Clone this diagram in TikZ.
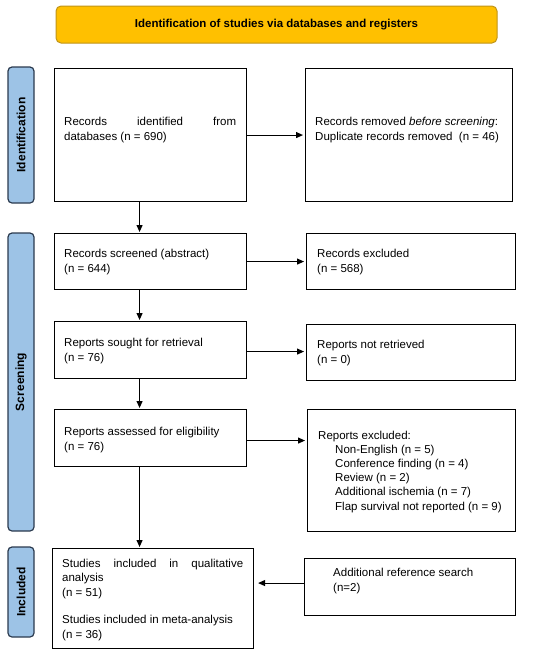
\documentclass[tikz,border=0pt]{standalone}
\usepackage{fontspec}
\setmainfont{Liberation Sans}
\usetikzlibrary{arrows.meta}
\definecolor{bannerfill}{HTML}{FFC000}
\definecolor{bannerdraw}{HTML}{C09418}
\definecolor{sidefill}{HTML}{9DC3E6}
\definecolor{sidedraw}{HTML}{2B3A4E}
\begin{document}
\begin{tikzpicture}[x=1pt,y=-1pt,
  box/.style={draw, line width=1.1pt, anchor=north west, inner sep=0pt},
  txt/.style={anchor=base west, align=left, inner sep=0pt, font=\fontsize{11.5}{14.2}\selectfont},
  side/.style={draw=sidedraw, fill=sidefill, line width=1.2pt, rounded corners=4pt, inner sep=0pt, rotate=90, font=\bfseries\fontsize{12}{14}\selectfont},
  arr/.style={-{Triangle[length=7pt,width=6pt]}, line width=1.1pt}]
\useasboundingbox (0,0) rectangle (550,654);

% banner
\node[fill=bannerfill, draw=bannerdraw, line width=1pt, rounded corners=5pt,
      minimum width=441pt, minimum height=37pt, inner sep=0pt,
      font=\bfseries\fontsize{11.5}{14}\selectfont] (banner) at (276.5,24.5)
      {Identification of studies via databases and registers};

% side labels
\node[side, minimum width=136pt, minimum height=26pt] (sid) at (21,135) {Identification};
\node[side, minimum width=298pt, minimum height=26pt] (sscr) at (21,382) {Screening};
\node[side, minimum width=90pt, minimum height=26pt] (sinc) at (21,592) {Included};

% boxes
\node[box, minimum width=192pt, minimum height=133pt] (b1) at (54,68) {};
\node[box, minimum width=207pt, minimum height=133pt] (b2) at (305,68) {};
\node[box, minimum width=192pt, minimum height=56pt] (b3) at (54,233) {};
\node[box, minimum width=209pt, minimum height=56pt] (b4) at (306,233) {};
\node[box, minimum width=192pt, minimum height=57pt] (b5) at (54,321) {};
\node[box, minimum width=209pt, minimum height=56pt] (b6) at (306,324) {};
\node[box, minimum width=192pt, minimum height=57pt] (b7) at (54,409) {};
\node[box, minimum width=208pt, minimum height=122pt] (b8) at (307,409) {};
\node[box, minimum width=201pt, minimum height=100pt] (b9) at (52,548) {};
\node[box, minimum width=211pt, minimum height=57pt] (b10) at (304,558) {};

% texts (base = baseline of last line)
\node[txt] (t1) at (64,140) {\makebox[172pt][s]{Records identified from}\\databases (n = 690)};
\node[txt] (t2) at (315,140) {Records removed \textit{before screening}:\\Duplicate records removed~ (n = 46)};
\node[txt] (t3) at (64,272) {Records screened (abstract)\\(n = 644)};
\node[txt] (t4) at (317,272) {Records excluded\\(n = 568)};
\node[txt] (t5) at (64,361) {Reports sought for retrieval\\(n = 76)};
\node[txt] (t6) at (317,363) {Reports not retrieved\\(n = 0)};
\node[txt] (t7) at (64,450) {Reports assessed for eligibility\\(n = 76)};
\node[txt] (t8a) at (318,439) {Reports excluded:};
\node[txt] (t8b) at (335,510) {Non-English (n = 5)\\Conference finding (n = 4)\\Review (n = 2)\\Additional ischemia (n = 7)\\Flap survival not reported (n = 9)};
\node[txt] (t9a) at (62,596) {\makebox[181pt][s]{Studies included in qualitative}\\analysis\\(n = 51)};
\node[txt] (t9b) at (62,638) {Studies included in meta-analysis\\(n = 36)};
\node[txt] (t10) at (333,591) {Additional reference search\\(n=2)};

% horizontal arrows
\draw[arr, shorten >=2pt] (b1.east) -- (b1.east -| b2.west);
\draw[arr, shorten >=2pt] (b3.east) -- (b3.east -| b4.west);
\draw[arr, shorten >=2pt] ([yshift=-1.5pt]b5.east) -- ([yshift=-1.5pt]b5.east -| b6.west);
\draw[arr, shorten >=2pt] ([yshift=-2.5pt]b7.east) -- ([yshift=-2.5pt]b7.east -| b8.west);
\draw[arr, shorten >=4pt] ([yshift=4pt]b10.west) -- ([yshift=4pt]b10.west -| b9.east);

% vertical arrows
\draw[arr, shorten >=1pt] ([xshift=-11pt]b1.south) -- ([xshift=-11pt]b1.south |- b3.north);
\draw[arr, shorten >=1pt] ([xshift=-11pt]b3.south) -- ([xshift=-11pt]b3.south |- b5.north);
\draw[arr, shorten >=1pt] ([xshift=-11pt]b5.south) -- ([xshift=-11pt]b5.south |- b7.north);
\draw[arr, shorten >=1pt] ([xshift=-11pt]b7.south) -- ([xshift=-11pt]b7.south |- b9.north);
\end{tikzpicture}
\end{document}
